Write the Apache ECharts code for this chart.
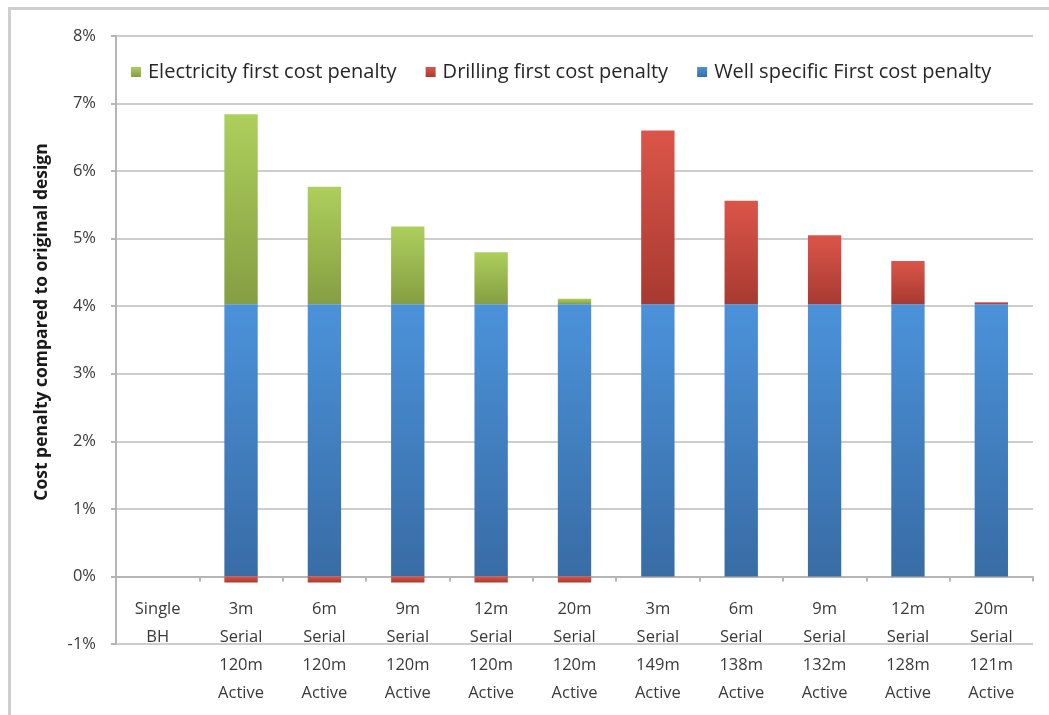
<!DOCTYPE html>
<html>
<head>
<meta charset="utf-8">
<script src="https://cdn.jsdelivr.net/npm/echarts@6/dist/echarts.min.js"></script>
<style>
  html, body { margin: 0; padding: 0; background: #ffffff; overflow: hidden; }
  #frame {
    position: absolute; left: 8px; top: 7px; width: 1100px; height: 760px;
    border-left: 3px solid #cfcfcf; border-top: 3px solid #cfcfcf;
  }
  #chart { position: absolute; left: 0; top: 0; width: 1049px; height: 715px; }
</style>
</head>
<body>
<div id="frame"></div>
<div id="chart"></div>
<script>
// Design variants along the x axis
const categories = [
  'Single\nBH',
  '3m\nSerial\n120m\nActive',
  '6m\nSerial\n120m\nActive',
  '9m\nSerial\n120m\nActive',
  '12m\nSerial\n120m\nActive',
  '20m\nSerial\n120m\nActive',
  '3m\nSerial\n149m\nActive',
  '6m\nSerial\n138m\nActive',
  '9m\nSerial\n132m\nActive',
  '12m\nSerial\n128m\nActive',
  '20m\nSerial\n121m\nActive'
];

// Cost penalty components, in percent of the original design
const wellSpecific = [0, 4.03, 4.03, 4.03, 4.03, 4.03, 4.03, 4.03, 4.03, 4.03, 4.03];
const drilling     = [0, -0.09, -0.09, -0.09, -0.09, -0.09, 2.57, 1.53, 1.02, 0.64, 0.03];
const electricity  = [0, 2.81, 1.74, 1.15, 0.77, 0.08, 0, 0, 0, 0, 0];

const seriesNames = {
  electricity: 'Electricity first cost penalty',
  drilling: 'Drilling first cost penalty',
  well: 'Well specific First cost penalty'
};

const FONT = '"Open Sans", "Noto Sans", sans-serif';
const AXIS_GREY = '#b5b5b5';

function grad(top, bottom) {
  return new echarts.graphic.LinearGradient(0, 0, 0, 1, [
    { offset: 0, color: top },
    { offset: 1, color: bottom }
  ]);
}

const barBase = {
  type: 'bar',
  stack: 'penalty',
  barWidth: '40%',
  xAxisIndex: 0,
  emphasis: { disabled: true }
};

const chart = echarts.init(document.getElementById('chart'), null, { renderer: 'canvas' });

chart.setOption({
  animation: false,
  textStyle: { fontFamily: FONT },
  legend: {
    left: 126,
    top: 57,
    itemWidth: 10,
    itemHeight: 10,
    itemGap: 29,
    icon: 'rect',
    data: [seriesNames.electricity, seriesNames.drilling, seriesNames.well],
    textStyle: { fontFamily: FONT, fontSize: 20, color: '#262626', padding: [0, 0, 0, 2] }
  },
  grid: { left: 116, right: 16, top: 36, bottom: 71, containLabel: false, outerBoundsMode: 'none' },
  xAxis: [
    {
      // baseline at 0% with boundary ticks
      type: 'category',
      data: categories,
      axisLine: { onZero: true, lineStyle: { color: AXIS_GREY, width: 2 } },
      axisTick: { show: true, length: 5, lineStyle: { color: AXIS_GREY, width: 2 } },
      axisLabel: { show: false },
      splitLine: { show: false }
    },
    {
      // category labels hung just under the 0% baseline
      type: 'category',
      data: categories,
      position: 'bottom',
      axisLine: { show: false, onZero: false },
      axisTick: { show: false },
      axisLabel: {
        interval: 0,
        margin: -49,
        fontFamily: FONT,
        fontSize: 16.5,
        lineHeight: 28,
        color: '#3a3a3a',
        align: 'center',
        verticalAlign: 'top'
      },
      splitLine: { show: false }
    }
  ],
  yAxis: {
    type: 'value',
    min: -1,
    max: 8,
    interval: 1,
    axisLine: { show: true, lineStyle: { color: AXIS_GREY, width: 2 } },
    axisTick: { show: true, length: 5, lineStyle: { color: AXIS_GREY, width: 2 } },
    axisLabel: {
      formatter: '{value}%',
      margin: 20,
      fontFamily: FONT,
      fontSize: 16.5,
      color: '#3a3a3a'
    },
    splitLine: { show: true, lineStyle: { color: '#cdcdcd', width: 2 } }
  },
  graphic: [{
    type: 'text',
    x: 42,
    y: 322,
    rotation: Math.PI / 2,
    style: {
      text: 'Cost penalty compared to original design',
      x: 0,
      y: 0,
      textAlign: 'center',
      textVerticalAlign: 'middle',
      font: 'bold 17.5px ' + FONT,
      fill: '#1a1a1a'
    }
  }],
  color: ['#3f80c8', '#c9463d', '#8db04a'],
  series: [
    Object.assign({}, barBase, {
      name: seriesNames.well,
      data: wellSpecific,
      itemStyle: { color: grad('#4b92da', '#386ca5') }
    }),
    Object.assign({}, barBase, {
      name: seriesNames.drilling,
      data: drilling,
      itemStyle: { color: grad('#db5549', '#a83a31') }
    }),
    Object.assign({}, barBase, {
      name: seriesNames.electricity,
      data: electricity,
      itemStyle: { color: grad('#adcf5c', '#859e42') }
    })
  ]
});
</script>
</body>
</html>
